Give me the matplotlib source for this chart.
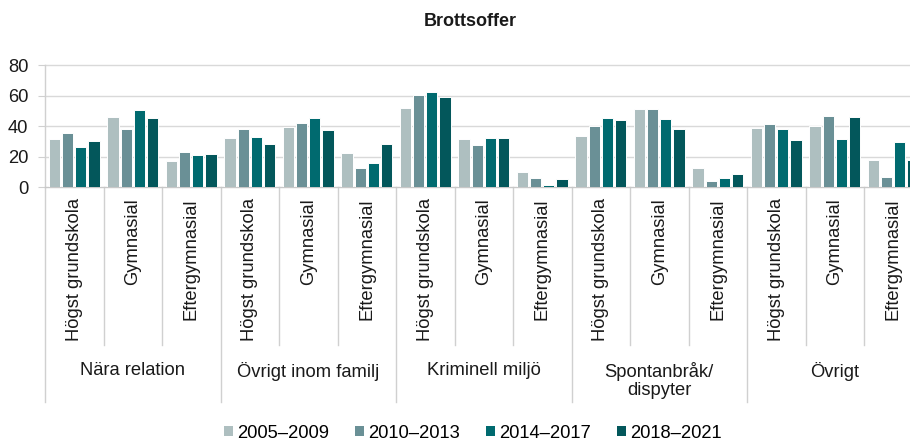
import matplotlib
matplotlib.use("Agg")
import matplotlib.pyplot as plt
import matplotlib.transforms as mtransforms
from matplotlib.patches import Patch
import numpy as np

plt.rcParams['font.family'] = ['Liberation Sans', 'DejaVu Sans']

title = "Brottsoffer"
groups = ["Nära relation", "Övrigt inom familj", "Kriminell miljö", "Spontanbråk/\ndispyter", "Övrigt"]
subcats = ["Högst grundskola", "Gymnasial", "Eftergymnasial"]
series_names = ["2005–2009", "2010–2013", "2014–2017", "2018–2021"]

# values per category (group x subcategory), in order of subcats within groups
s2005 = [31.5, 46.3, 17.5, 32.3, 39.8, 22.3, 51.7, 31.4, 9.8, 33.4, 51.5, 12.4, 38.9, 40.0, 17.9]
s2010 = [35.4, 38.3, 23.0, 38.5, 42.0, 12.7, 60.7, 27.9, 6.4, 40.2, 51.3, 4.2, 41.5, 46.5, 6.7]
s2014 = [26.2, 50.7, 21.0, 33.2, 45.7, 16.0, 62.4, 32.5, 1.3, 45.4, 44.8, 5.9, 38.0, 31.7, 29.6]
s2018 = [30.4, 45.7, 21.9, 28.4, 37.8, 28.4, 59.2, 32.5, 5.2, 43.9, 38.2, 8.5, 30.8, 45.9, 17.6]
yticks = [0, 20, 40, 60, 80]

colors = ["#aebfc0", "#6a9096", "#006a6f", "#03575b"]

W, H = 910, 441
fig = plt.figure(figsize=(W / 100, H / 100), dpi=100)

left_px, right_px = 45, 922.5
y0_px, y80_px = 187.3, 65.3
ax = fig.add_axes([left_px / W, 1 - y0_px / H, (right_px - left_px) / W, (y0_px - y80_px) / H])

ncat = len(s2005)
x = np.arange(ncat) + 0.5
pitch = 0.2256
bw = 0.19
for k, (vals, c) in enumerate(zip([s2005, s2010, s2014, s2018], colors)):
    ax.bar(x + (k - 1.5) * pitch, vals, width=bw, color=c, edgecolor="white", linewidth=0.7, zorder=3)

ax.set_xlim(0, ncat)
ax.set_ylim(0, 80)
ax.set_yticks(yticks)
for v in yticks[1:]:
    ax.axhline(v, color="#d9d9d9", lw=1.0, zorder=1, clip_on=False)

for s in ["top", "right"]:
    ax.spines[s].set_visible(False)
ax.spines["left"].set_color("#d0d0d0")
ax.spines["bottom"].set_color("#c8c8c8")
ax.spines["left"].set_linewidth(1.0)
ax.spines["bottom"].set_linewidth(1.0)
ax.tick_params(axis="y", length=5, color="#d0d0d0", labelsize=13.2, labelcolor="#1a1a1a", pad=7)
ax.set_xticks([])

fs = 13.2
h_px = y0_px - y80_px
def ay(py):
    return (y0_px - py) / h_px

trans = mtransforms.blended_transform_factory(ax.transData, ax.transAxes)
# separators
for i in range(ncat + 1):
    outer = (i % 3 == 0)
    yb = ay(402) if outer else ay(345)
    ax.plot([i, i], [0, yb], color="#d0d0d0", lw=1.0, transform=trans, clip_on=False, zorder=2)

# subcategory labels
for i in range(ncat):
    ax.text(i + 0.5, ay(198), subcats[i % 3], rotation=90, ha="center", va="top",
            fontsize=fs, color="#1a1a1a", transform=trans, clip_on=False)

# group labels
for g, name in enumerate(groups):
    ax.text(g * 3 + 1.5, ay(362), name, ha="center", va="top", fontsize=fs,
            color="#1a1a1a", transform=trans, clip_on=False, linespacing=1.05)

fig.text(470 / W, 1 - 21.5 / H, title, ha="center", va="center", fontsize=13, fontweight="bold", color="#1a1a1a")

handles = [Patch(facecolor=c, edgecolor="none") for c in colors]
fig.legend(handles, series_names, loc="center", bbox_to_anchor=(473 / W, 1 - 433 / H),
           ncol=4, frameon=False, fontsize=fs, handlelength=0.5, handleheight=0.5,
           handletextpad=0.22, columnspacing=1.42, borderpad=0, borderaxespad=0)

fig.savefig("out.png", dpi=100)
